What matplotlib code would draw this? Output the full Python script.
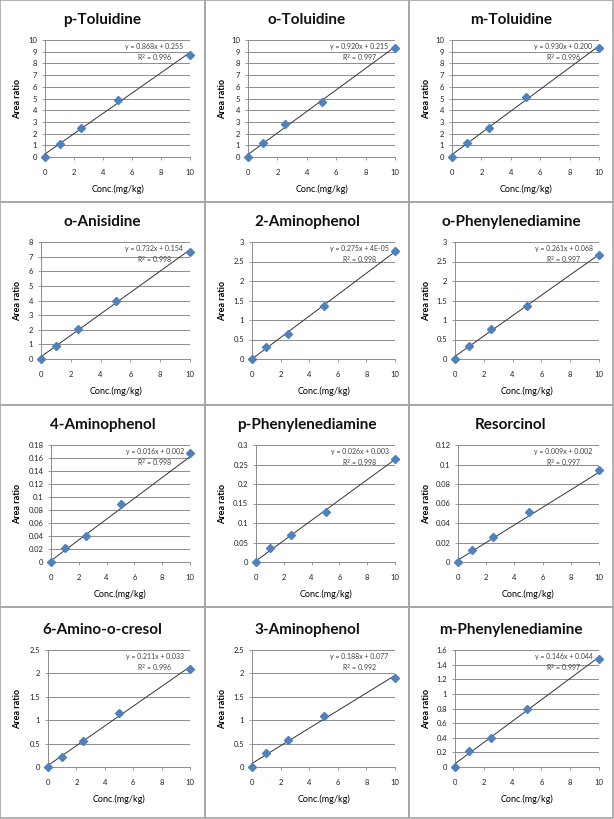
import matplotlib
matplotlib.use("Agg")
import matplotlib.pyplot as plt
import numpy as np
from matplotlib.patches import Rectangle

plt.rcParams['font.family'] = ['Lato', 'DejaVu Sans']

conc = [0, 1, 2.5, 5, 10]

names = ['p-Toluidine', 'o-Toluidine', 'm-Toluidine',
         'o-Anisidine', '2-Aminophenol', 'o-Phenylenediamine',
         '4-Aminophenol', 'p-Phenylenediamine', 'Resorcinol',
         '6-Amino-o-cresol', '3-Aminophenol', 'm-Phenylenediamine']

p_toluidine = [0, 1.15, 2.5, 4.9, 8.75]
o_toluidine = [0, 1.2, 2.85, 4.7, 9.35]
m_toluidine = [0, 1.2, 2.5, 5.15, 9.3]
o_anisidine = [0, 0.9, 2.05, 3.95, 7.3]
aminophenol_2 = [0, 0.32, 0.63, 1.36, 2.76]
o_phenylenediamine = [0, 0.34, 0.78, 1.36, 2.66]
aminophenol_4 = [0, 0.021, 0.04, 0.089, 0.167]
p_phenylenediamine = [0, 0.035, 0.068, 0.127, 0.265]
resorcinol = [0, 0.0125, 0.026, 0.051, 0.094]
amino_o_cresol = [0, 0.22, 0.55, 1.16, 2.1]
aminophenol_3 = [0, 0.29, 0.57, 1.1, 1.91]
m_phenylenediamine = [0, 0.22, 0.4, 0.79, 1.48]

series = [p_toluidine, o_toluidine, m_toluidine, o_anisidine, aminophenol_2,
          o_phenylenediamine, aminophenol_4, p_phenylenediamine, resorcinol,
          amino_o_cresol, aminophenol_3, m_phenylenediamine]

slopes = [0.868, 0.920, 0.930, 0.732, 0.275, 0.261, 0.016, 0.026, 0.009, 0.211, 0.188, 0.146]
intercepts = [0.255, 0.215, 0.200, 0.154, 4e-05, 0.068, 0.002, 0.003, 0.002, 0.033, 0.077, 0.044]
intercept_labels = ['0.255', '0.215', '0.200', '0.154', '4E-05', '0.068',
                    '0.002', '0.003', '0.002', '0.033', '0.077', '0.044']
r2_labels = ['0.996', '0.997', '0.996', '0.998', '0.998', '0.997',
             '0.998', '0.998', '0.997', '0.996', '0.992', '0.997']

y_max = [10, 10, 10, 8, 3, 3, 0.18, 0.3, 0.12, 2.5, 2.5, 1.6]
y_step = [1, 1, 1, 1, 0.5, 0.5, 0.02, 0.05, 0.02, 0.5, 0.5, 0.2]

# left edge of plot area inside each panel (px), depends on tick label width
left_px = [45, 43, 43, 41, 47, 46, 51, 51, 49, 48, 47, 46]

W, H = 614, 819
fig = plt.figure(figsize=(W / 100, H / 100), dpi=100)
fig.patch.set_facecolor('white')

col_x = [0, 205, 409, 613]
row_y = [0, 202, 405, 607, 818]

for i, name in enumerate(names):
    r, c = divmod(i, 3)
    px0, px1 = col_x[c], col_x[c + 1]
    py0 = row_y[r]
    shift = 3 if r == 3 else 0
    # panel frame
    fig.patches.append(Rectangle((px0 / W, 1 - row_y[r + 1] / H), (px1 - px0) / W,
                                 (row_y[r + 1] - py0) / H, transform=fig.transFigure,
                                 fill=False, edgecolor='#a6a6a6', linewidth=1.2))
    ax_l = px0 + left_px[i]
    ax_r = px0 + 190
    ax_t = py0 + 40 + shift
    ax_b = py0 + 157 + shift
    ax = fig.add_axes([ax_l / W, 1 - ax_b / H, (ax_r - ax_l) / W, (ax_b - ax_t) / H])

    ax.set_xlim(0, 10)
    ax.set_ylim(0, y_max[i])
    ax.set_xticks(np.arange(0, 11, 2))
    yt = np.arange(0, y_max[i] + y_step[i] / 2, y_step[i])
    ax.set_yticks(yt)
    ax.set_yticklabels(['%g' % round(v, 4) for v in yt])
    ax.yaxis.grid(True, color='#8c8c8c', linewidth=0.7)
    ax.set_axisbelow(True)
    for s in ['top', 'right']:
        ax.spines[s].set_visible(False)
    for s in ['left', 'bottom']:
        ax.spines[s].set_color('#8c8c8c')
        ax.spines[s].set_linewidth(0.7)
    ax.tick_params(labelsize=5.5, length=2.5, width=0.6, color='#8c8c8c',
                   labelcolor='#222222')
    ax.tick_params(axis='x', pad=6)
    ax.tick_params(axis='y', pad=3)

    xs = np.array([0, 10])
    ax.plot(xs, slopes[i] * xs + intercepts[i], color='#333333', linewidth=0.7,
            clip_on=False)
    ax.plot(conc, series[i], linestyle='none', marker='D', markersize=3.8,
            color='#4f81bd', clip_on=False, zorder=3)

    ax.text(0.955, 0.975, 'y = %.3fx + %s\nR$^2$ = %s' % (slopes[i], intercept_labels[i], r2_labels[i]),
            transform=ax.transAxes, ha='right', va='top', multialignment='center',
            fontsize=5, color='#404040', linespacing=1.3)

    ax.set_ylabel('Area ratio', fontsize=6.5, fontweight='bold')
    ax.yaxis.label.set_va('center')
    ax.yaxis.set_label_coords((px0 + 18 - ax_l) / (ax_r - ax_l), 0.5)
    ax.set_xlabel('Conc.(mg/kg)', fontsize=6.5)
    ax.xaxis.set_label_coords(0.5, -(py0 + 189 + shift - ax_b) / (ax_b - ax_t))
    ax.xaxis.label.set_va('center')

    fig.text((px0 + px1) / 2 / W, 1 - (py0 + 20 + shift) / H, name,
             ha='center', va='center', fontsize=11, fontweight='bold', color='#111111')

fig.savefig('out.png', dpi=100, facecolor='white')
